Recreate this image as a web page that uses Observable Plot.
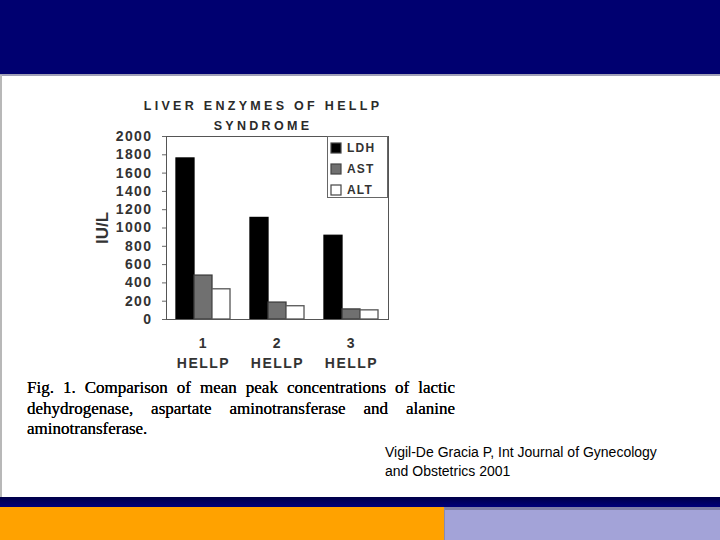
<!DOCTYPE html>
<html><head><meta charset="utf-8">
<script src="https://cdn.jsdelivr.net/npm/d3@7"></script>
<script src="https://cdn.jsdelivr.net/npm/@observablehq/plot@0.6"></script>
<style>
html,body{margin:0;padding:0;width:720px;height:540px;overflow:hidden;background:#fff;}
.blk{position:absolute;}
#top{left:0;top:0;width:720px;height:74px;background:#000070;}
#topedge{left:0;top:74px;width:720px;height:2px;background:#a0a0b8;}
#leftedge{left:0;top:75px;width:2px;height:422px;background:#b8b8b8;}
#navy2{left:0;top:497px;width:720px;height:10px;background:linear-gradient(#000048,#00007a);}
#orange{left:0;top:507px;width:444px;height:33px;background:#ffa200;}
#lav{left:444px;top:507px;width:276px;height:33px;background:#a3a3d8;border-top:3px solid #8080a8;border-left:1px solid #8a8ab0;box-sizing:border-box;}
#title{left:130px;top:96px;width:266px;text-align:center;font:bold 12.5px "Liberation Sans",Arial,sans-serif;letter-spacing:3.3px;line-height:20px;color:#2a2a2a;}
#chart{left:80px;top:128px;}
#chart [aria-label="y-axis tick label"] text{letter-spacing:1.4px;}
#chart [aria-label="fx-axis tick label"] text{letter-spacing:1.5px;}
#legend{left:327px;top:136px;width:61px;height:62px;border:1px solid #666;box-sizing:border-box;background:#fff;padding:1px 0 0 3px;}
#legend svg rect{stroke:#444;stroke-width:1.2px;}
#caption{left:27px;top:378px;width:428px;font:17px "Liberation Serif","Times New Roman",serif;line-height:20.5px;color:#000;text-shadow:0 0 0.3px #000;}
#caption .j{text-align:justify;text-align-last:justify;}
#cite{left:385px;top:443px;font:14px "Liberation Sans",Arial,sans-serif;line-height:19px;color:#000;}
</style>
</head><body>
<div class="blk" id="top"></div>
<div class="blk" id="topedge"></div>
<div class="blk" id="leftedge"></div>
<div class="blk" id="navy2"></div>
<div class="blk" id="orange"></div>
<div class="blk" id="lav"></div>
<div class="blk" id="title">LIVER ENZYMES OF HELLP<br>SYNDROME</div>
<div class="blk" id="chart"></div>
<div class="blk" id="legend"></div>
<div class="blk" id="caption">
<div class="j">Fig. 1. Comparison of mean peak concentrations of lactic</div>
<div class="j">dehydrogenase, aspartate aminotransferase and alanine</div>
<div>aminotransferase.</div>
</div>
<div class="blk" id="cite">Vigil-De Gracia P, Int Journal of Gynecology<br>and Obstetrics 2001</div>
<script>
const groups = ["1", "2", "3"];
const groupSuffix = "HELLP";
const enzymes = ["LDH", "AST", "ALT"];
const LDH = [1760, 1110, 915];
const AST = [480, 185, 110];
const ALT = [330, 145, 100];
const yTicks = [0, 200, 400, 600, 800, 1000, 1200, 1400, 1600, 1800, 2000];
const yLabel = "IU/L";
const fills = ["#000000", "#707070", "#ffffff"];
const strokes = ["#000000", "#3c3c3c", "#555555"];

const series = {LDH, AST, ALT};
const rows = [];
enzymes.forEach(e => groups.forEach((g, i) => rows.push({group: g, enzyme: e, value: series[e][i]})));

const chart = Plot.plot({
  width: 320, height: 247,
  marginLeft: 86, marginRight: 12, marginTop: 8, marginBottom: 56,
  style: {fontFamily: "'Liberation Sans', Arial, sans-serif", color: "#333", background: "transparent", overflow: "visible"},
  fx: {domain: groups, padding: 0, label: null, axis: null},
  x: {domain: enzymes, paddingInner: 0, paddingOuter: 0.555, axis: null, round: false},
  y: {domain: [0, 2000]},
  marks: [
    ...enzymes.map((e, i) => Plot.barY(rows.filter(r => r.enzyme === e), {
      fx: "group", x: "enzyme", y: "value", fill: fills[i], stroke: strokes[i], strokeWidth: 1.3
    })),
    Plot.frame({facet: "super", stroke: "#555", strokeWidth: 1}),
    Plot.axisY({ticks: yTicks, tickFormat: d => String(d), tickSize: 4, tickPadding: 10, fontSize: 14, fontWeight: "bold",
      label: null, stroke: "#666"}),
    Plot.axisY({ticks: [], label: yLabel, labelAnchor: "center", labelArrow: "none", labelOffset: 71,
      fontSize: 17, fontWeight: "bold"}),
    Plot.axisFx({anchor: "bottom", tickFormat: d => d + "\n" + groupSuffix, tickSize: 0, tickPadding: 14, fontSize: 14,
      fontWeight: "bold", lineHeight: 1.43, label: null})
  ]
});
document.getElementById("chart").appendChild(chart);

const leg = Plot.legend({
  color: {domain: enzymes, range: fills},
  legend: "swatches", columns: 1, swatchSize: 10,
  style: {fontFamily: "'Liberation Sans', Arial, sans-serif", fontSize: "12px", fontWeight: "bold", letterSpacing: "1.2px", color: "#333", lineHeight: "20px", margin: 0}
});
document.getElementById("legend").appendChild(leg);
</script>
</body></html>
